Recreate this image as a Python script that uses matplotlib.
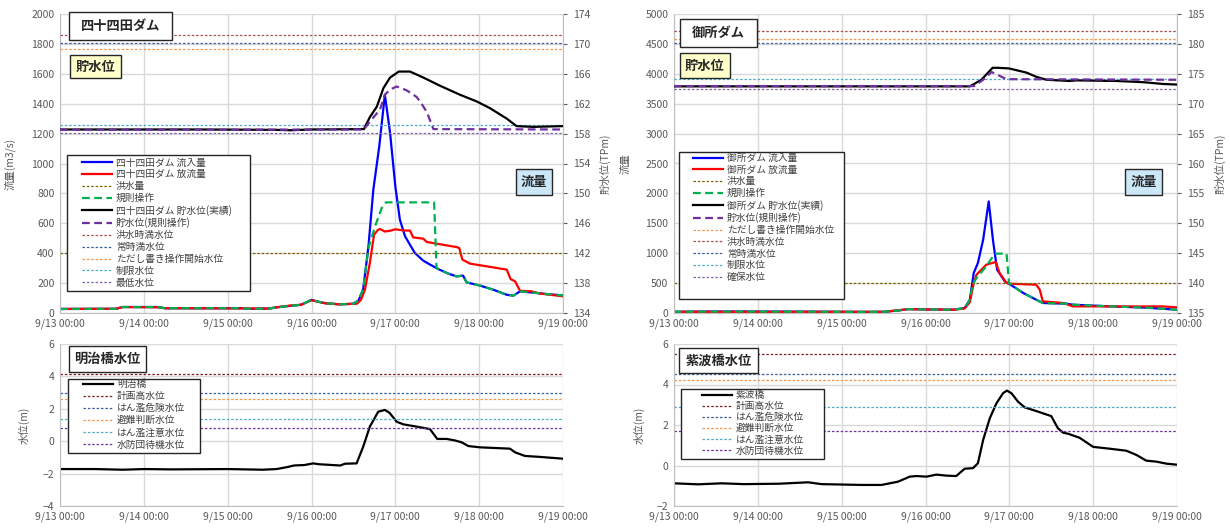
import matplotlib
matplotlib.use("Agg")
import matplotlib.pyplot as plt
from matplotlib.patches import Rectangle

plt.rcParams['font.family'] = ['Noto Sans CJK JP', 'DejaVu Sans']

# ---------------- data ----------------
xtick_labels = ["9/13 00:00", "9/14 00:00", "9/15 00:00", "9/16 00:00",
                "9/17 00:00", "9/18 00:00", "9/19 00:00"]
xtick_hours = [0, 24, 48, 72, 96, 120, 144]

# 四十四田ダム  (hours from 9/13 00:00)
sj_in_t = [0, 16, 18, 28, 30, 52, 54, 60, 62, 66, 69, 72, 74, 76, 80, 84, 85.5, 86.8, 88.3, 89.7,
           91.4, 93, 94.5, 96, 97.3, 98.8, 101.6, 104, 106, 108.3, 111, 113.5, 115.4, 116.4,
           120.3, 124, 127.9, 129.8, 131.7, 136, 140, 144]
sj_in_q = [27, 28, 40, 40, 32, 32, 28, 30, 38, 48, 55, 88, 75, 65, 58, 62, 85, 160, 445, 825,
           1115, 1460, 1204, 847, 624, 512, 401, 350, 323, 294, 265, 245, 250, 205,
           183, 156, 122, 116, 145, 135, 125, 118]
sj_out_t = [0, 16, 18, 28, 30, 60, 62, 66, 69, 72, 74, 76, 80, 85, 86.2, 87.3, 88.7, 89.9, 91,
            91.6, 93, 94.5, 96, 98.5, 100.2, 101.1, 104, 105, 113.5, 114.3, 115.2, 117.4,
            122.2, 127.9, 129, 130.3, 131.7, 135, 137.4, 144]
sj_out_q = [27, 28, 40, 38, 32, 30, 38, 50, 55, 85, 75, 65, 58, 62, 90, 156, 334, 524, 555,
            562, 545, 550, 560, 552, 551, 506, 497, 475, 441, 435, 357, 330,
            312, 290, 227, 211, 149, 145, 130, 112]
sj_rule_t = [0, 16, 18, 28, 30, 52, 54, 60, 62, 66, 69, 72, 74, 76, 80, 84, 85.5, 86.8, 88.3,
             90.2, 92.1, 93.3, 107.1, 107.8, 108.3, 111, 113.5, 115.4, 116.4, 120.3, 124,
             127.9, 129.8, 131.7, 136, 140, 144]
sj_rule_q = [27, 28, 40, 40, 32, 32, 28, 30, 38, 48, 55, 88, 75, 65, 58, 62, 85, 160, 435,
             580, 702, 740, 740, 300, 294, 265, 245, 250, 205, 183, 156,
             122, 116, 145, 135, 125, 118]
sj_lv_t = [0, 40, 62, 66, 72, 87, 88.7, 90.7, 92.6, 94.5, 97, 100.2, 104, 108.8, 114.5, 119.3,
           123.1, 127.9, 130.7, 135.5, 144]
sj_lv = [158.55, 158.55, 158.5, 158.45, 158.55, 158.6, 160.2, 161.6, 164.1, 165.5, 166.3, 166.3,
         165.5, 164.4, 163.2, 162.3, 161.4, 160.0, 159.0, 158.9, 159.0]
sj_rlv_t = [0, 87, 88.7, 91.6, 93, 94.5, 96.4, 99.2, 102.1, 103.5, 105, 106.9, 144]
sj_rlv = [158.5, 158.55, 159.6, 161.2, 163.2, 163.9, 164.3, 163.8, 162.9, 162.0, 160.9, 158.6, 158.55]
sj_flood_q = 400
sj_levels = {"洪水時満水位": 171.2, "常時満水位": 170.15, "ただし書き操作開始水位": 169.3,
             "制限水位": 159.1, "最低水位": 158.1}

# 御所ダム
gs_in_t = [0, 10, 20, 40, 55, 60, 64, 67, 72, 80, 83.2, 84.7, 85.8, 87, 88.5, 90.1, 91.3, 92.5,
           94.7, 97.1, 100, 103.7, 105.6, 112.3, 114.2, 124.7, 135, 144]
gs_in_q = [20, 25, 25, 22, 18, 20, 40, 65, 60, 55, 83, 222, 669, 836, 1225, 1866, 1225, 724,
           529, 445, 334, 222, 167, 156, 139, 111, 90, 55]
gs_out_t = [0, 60, 64, 67, 72, 80, 83.2, 84.7, 85.8, 86.6, 89.4, 92.1, 93.2, 95.2, 96.1, 103.7,
            104.7, 105.6, 111.4, 114.2, 130, 140, 144]
gs_out_q = [20, 20, 45, 65, 60, 55, 75, 180, 500, 640, 808, 853, 669, 502, 490, 473,
            390, 194, 167, 111, 110, 110, 95]
gs_rule_t = [0, 10, 20, 40, 55, 60, 64, 67, 72, 80, 83.2, 84.7, 85.5, 86.6, 89.4, 91.8, 95.2,
             95.9, 97.1, 100, 103.7, 105.6, 112.3, 114.2, 124.7, 135, 144]
gs_rule_q = [20, 25, 25, 22, 18, 20, 40, 65, 60, 55, 83, 222, 480, 585, 780, 991, 995,
             502, 445, 334, 222, 167, 156, 139, 111, 90, 55]
gs_lv_t = [0, 84.7, 88, 91.2, 92.8, 95.9, 100.9, 103.7, 106.6, 113.3, 115.2, 126.7, 134.3, 140, 144]
gs_lv = [172.9, 172.9, 174.0, 176.0, 176.0, 175.9, 175.2, 174.5, 174.0, 173.8, 173.9, 173.8,
         173.6, 173.3, 173.2]
gs_rlv_t = [0, 86, 88.5, 90.9, 95.2, 144]
gs_rlv = [172.95, 172.95, 174.0, 175.3, 174.1, 174.0]
gs_flood_q = 500
gs_levels = {"ただし書き操作開始水位": 180.9, "洪水時満水位": 182.2, "常時満水位": 180.1,
             "制限水位": 174.1, "確保水位": 172.4}

# 明治橋水位
mj_t = [0, 10, 18, 24, 32, 48, 58, 62, 65, 67, 70, 72.5, 74, 80.2, 81.6, 84.9, 86.8, 88.7, 91.1,
        93, 94.3, 96.4, 98.3, 102.1, 105.9, 108, 110.7, 113, 115, 116.9, 120.3, 128.8, 130.3,
        133.1, 137.4, 144]
mj_h = [-1.72, -1.72, -1.76, -1.72, -1.74, -1.72, -1.76, -1.72, -1.6, -1.5, -1.47, -1.37, -1.42,
        -1.5, -1.39, -1.37, -0.34, 0.9, 1.82, 1.93, 1.76, 1.20, 1.04, 0.90, 0.75, 0.14, 0.14,
        0.05, -0.07, -0.30, -0.38, -0.46, -0.69, -0.91, -0.97, -1.08]
mj_levels = {"計画高水位": 4.15, "はん濫危険水位": 3.0, "避難判断水位": 2.6,
             "はん濫注意水位": 1.4, "水防団待機水位": 0.8}

# 紫波橋水位
sw_t = [0, 6.9, 13.6, 20, 30, 38.4, 42.2, 53.6, 59.4, 64.1, 67.5, 69.4, 72.3, 75.1, 78, 80.8,
        83.2, 85.6, 87, 88.5, 90.4, 92.3, 94.2, 95.3, 96.6, 98.5, 100.4, 103.7, 106.6, 108,
        109.9, 111.4, 112.8, 116.1, 120, 124.7, 129.5, 132.4, 135.2, 138.1, 141, 144]
sw_h = [-0.88, -0.93, -0.88, -0.92, -0.9, -0.83, -0.92, -0.96, -0.96, -0.80, -0.55, -0.52, -0.55,
        -0.45, -0.5, -0.52, -0.16, -0.13, 0.11, 1.26, 2.33, 3.07, 3.57, 3.70, 3.57, 3.15, 2.87,
        2.69, 2.52, 2.44, 1.84, 1.62, 1.57, 1.37, 0.92, 0.83, 0.73, 0.52, 0.24, 0.19, 0.09, 0.04]
sw_levels = {"計画高水位": 5.5, "はん濫危険水位": 4.5, "避難判断水位": 4.2,
             "はん濫注意水位": 2.9, "水防団待機水位": 1.7}

# ---------------- style ----------------
W, H = 1230, 531
fig = plt.figure(figsize=(W / 100, H / 100), dpi=100)
GRID = "#D9D9D9"
AXC = "#BFBFBF"
TXT = "#595959"
DOT = (0, (2, 1.5))
DASH = (0, (3.5, 2))
LFS = 7.0

level_colors = {"洪水時満水位": "#A5504B", "常時満水位": "#3A5F9E", "ただし書き操作開始水位": "#F79646",
                "制限水位": "#4BACC6", "最低水位": "#8064A2", "確保水位": "#8064A2",
                "計画高水位": "#7F1F1F", "はん濫危険水位": "#3A5F9E", "避難判断水位": "#F79646",
                "はん濫注意水位": "#4BACC6", "水防団待機水位": "#7030A0"}


def ax_rect(x0, y0, x1, y1):
    return [x0 / W, 1 - y1 / H, (x1 - x0) / W, (y1 - y0) / H]


def style_ax(ax):
    ax.set_xlim(0, 144)
    ax.set_xticks(xtick_hours)
    ax.set_xticklabels(xtick_labels)
    ax.grid(True, color=GRID, lw=1)
    ax.set_axisbelow(True)
    for s in ["top", "right"]:
        ax.spines[s].set_visible(False)
    for s in ["left", "bottom"]:
        ax.spines[s].set_color(AXC)
    ax.tick_params(colors=TXT, labelsize=7.5, length=0, pad=4)


def frame(x0, y0, x1, y1, fc, z):
    fig.patches.append(Rectangle((x0 / W, 1 - y1 / H), (x1 - x0) / W, (y1 - y0) / H,
                                 transform=fig.transFigure, fc=fc, ec="#262626", lw=1, zorder=z))


def box(x0, y0, x1, y1, text, fc, fs=9.5):
    frame(x0, y0, x1, y1, fc, 10)
    fig.text((x0 + x1) / 2 / W, 1 - (y0 + y1) / 2 / H, text, ha="center", va="center",
             fontsize=fs, fontweight="bold", color="#262626", zorder=11)


def legend(handles, labels, bx0, by0, bx1, by1, hx, row1, pitch):
    frame(bx0, by0, bx1, by1, "white", 18)
    fpx = LFS * 100 / 72.0
    th = 1.08 * fpx
    ls = (pitch - th) / fpx
    lg = fig.legend(handles, labels, loc="upper left",
                    bbox_to_anchor=(hx / W, 1 - (row1 - th / 2) / H),
                    fontsize=LFS, frameon=False,
                    handlelength=3.1, handletextpad=0.4, labelspacing=ls, borderpad=0,
                    borderaxespad=0, labelcolor="#404040")
    lg.set_zorder(20)


def dam_panel(rect, name, in_t, in_q, out_t, out_q, rule_t, rule_q, lv_t, lv, rlv_t, rlv,
              flood_q, levels, qlim, qstep, hlim, hstep, ylab_left):
    ax = fig.add_axes(rect)
    style_ax(ax)
    ax.set_ylim(*qlim)
    ax.set_yticks(range(qlim[0], qlim[1] + 1, qstep))
    ax2 = ax.twinx()
    ax2.set_ylim(*hlim)
    ax2.set_yticks(range(hlim[0], hlim[1] + 1, hstep))
    ax2.set_xlim(0, 144)
    for s in ["top", "left", "bottom"]:
        ax2.spines[s].set_visible(False)
    ax2.spines["right"].set_color(AXC)
    ax2.tick_params(colors=TXT, labelsize=7.5, length=3, pad=4)

    h_in, = ax.plot(in_t, in_q, color="#0000FF", lw=1.6)
    h_out, = ax.plot(out_t, out_q, color="#FF0000", lw=1.6)
    h_fl = ax.axhline(flood_q, color="#7F6000", lw=0.9, ls=DOT)
    h_rule, = ax.plot(rule_t, rule_q, color="#00B050", lw=1.6, ls=DASH)
    lvl_handles = {}
    for k, v in levels.items():
        lvl_handles[k] = ax2.axhline(v, color=level_colors[k], lw=0.9, ls=DOT)
    h_lv, = ax2.plot(lv_t, lv, color="black", lw=1.6)
    h_rlv, = ax2.plot(rlv_t, rlv, color="#7030A0", lw=1.6, ls=DASH)
    ax.set_ylabel(ylab_left, color=TXT, fontsize=7.5)
    ax2.set_ylabel("貯水位(TPm)", color=TXT, fontsize=7.5)
    handles = [h_in, h_out, h_fl, h_rule, h_lv, h_rlv] + list(lvl_handles.values())
    labels = [name + " 流入量", name + " 放流量", "洪水量", "規則操作", name + " 貯水位(実績)",
              "貯水位(規則操作)"] + list(lvl_handles.keys())
    return ax, ax2, handles, labels


def river_panel(rect, name, t, h, levels, ylim):
    ax = fig.add_axes(rect)
    style_ax(ax)
    ax.set_ylim(*ylim)
    ax.set_yticks(range(ylim[0], ylim[1] + 1, 2))
    hl, = ax.plot(t, h, color="black", lw=1.6)
    handles = [hl]
    for k, v in levels.items():
        handles.append(ax.axhline(v, color=level_colors[k], lw=0.9, ls=DOT))
    ax.set_ylabel("水位(m)", color=TXT, fontsize=7.5)
    return ax, handles, [name] + list(levels.keys())


# ---- top-left: 四十四田ダム ----
ax, ax2, hs, lbs = dam_panel(ax_rect(60, 14, 563, 313), "四十四田ダム",
                             sj_in_t, sj_in_q, sj_out_t, sj_out_q, sj_rule_t, sj_rule_q,
                             sj_lv_t, sj_lv, sj_rlv_t, sj_rlv, sj_flood_q, sj_levels,
                             (0, 2000), 200, (134, 174), 4, "流量(m3/s)")
ax.yaxis.set_label_coords(-0.088, 0.5)
ax2.yaxis.set_label_coords(1.072, 0.5)
legend(hs, lbs, 67, 155, 250, 291, 82, 162.7, 12.33)
box(69, 12, 172, 40, "四十四田ダム", "white")
box(70, 55, 121, 78, "貯水位", "#FFFFCC")
box(516, 169, 552, 195, "流量", "#CCE8F8")

# ---- top-right: 御所ダム ----
ax, ax2, hs, lbs = dam_panel(ax_rect(674, 14, 1177, 313), "御所ダム",
                             gs_in_t, gs_in_q, gs_out_t, gs_out_q, gs_rule_t, gs_rule_q,
                             gs_lv_t, gs_lv, gs_rlv_t, gs_rlv, gs_flood_q, gs_levels,
                             (0, 5000), 500, (135, 185), 5, "流量")
ax.yaxis.set_label_coords(-0.087, 0.5)
ax2.yaxis.set_label_coords(1.075, 0.5)
legend(hs, lbs, 679, 152, 844, 299, 693, 158.3, 12.2)
box(680, 19, 757, 47, "御所ダム", "white")
box(680, 53, 730, 78, "貯水位", "#FFFFCC")
box(1125, 169, 1162, 195, "流量", "#CCE8F8")

# ---- bottom-left: 明治橋 ----
ax, hs, lbs = river_panel(ax_rect(60, 344, 563, 506), "明治橋", mj_t, mj_h, mj_levels, (-4, 6))
ax.yaxis.set_label_coords(-0.06, 0.5)
legend(hs, lbs, 68, 379, 200, 453, 83, 384.3, 12.6)
box(69, 346, 146, 372, "明治橋水位", "white")

# ---- bottom-right: 紫波橋 ----
ax, hs, lbs = river_panel(ax_rect(674, 344, 1177, 506), "紫波橋", sw_t, sw_h, sw_levels, (-2, 6))
ax.yaxis.set_label_coords(-0.058, 0.5)
legend(hs, lbs, 681, 389, 824, 459, 702, 395.3, 11.6)
box(679, 348, 758, 373, "紫波橋水位", "white")

fig.savefig("out.png", dpi=100)
